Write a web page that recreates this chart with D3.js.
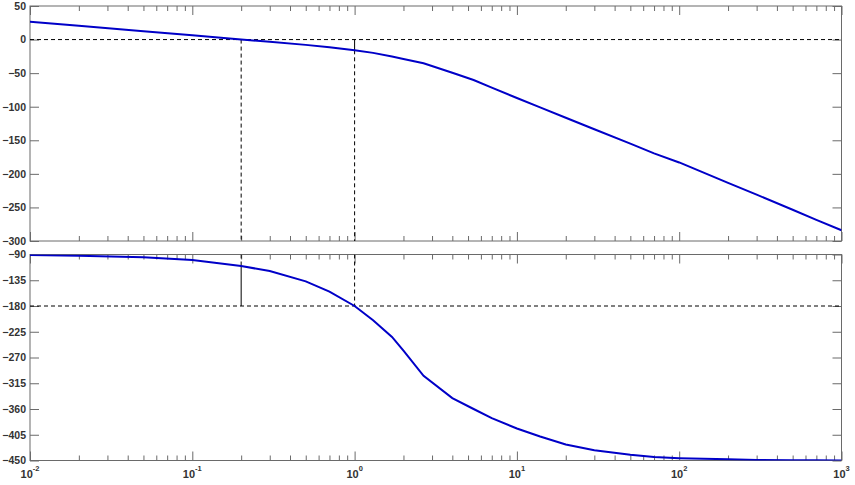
<!DOCTYPE html>
<html>
<head>
<meta charset="utf-8">
<script src="https://cdn.jsdelivr.net/npm/d3@7/dist/d3.min.js"></script>
<style>
  html, body { margin: 0; padding: 0; background: #fff; }
  svg { display: block; }
  .tick text { font-family: "Liberation Sans", Arial, sans-serif; font-size: 10.5px; font-weight: bold; fill: #333; }
</style>
</head>
<body>
<svg id="chart" width="855" height="485"></svg>
<script>
// ---- data ----
const freqs    = [0.01, 0.02, 0.05, 0.1, 0.2, 0.3, 0.5, 0.7, 1, 1.3, 1.7, 2.0, 2.66, 4, 5.41, 7, 10, 13.9, 20, 30, 50, 70, 100, 200, 300, 500, 700, 1000];
const magDb    = [26.5, 20.5, 12.5, 6.4, 0.0, -3.2, -7.9, -11.4, -16.0, -19.8, -25.3, -29.0, -35.4, -49.5, -60.2, -71.5, -87.0, -101.0, -116.5, -133.5, -155.0, -169.5, -183.0, -213.5, -231.0, -253.5, -268.5, -284.0];
const phaseDeg = [-91, -92, -94.7, -99.5, -110, -119, -137, -155, -180, -205, -234, -258, -302, -341, -360, -376, -394, -408, -422, -432, -440, -444, -446, -448, -449, -449.5, -449.7, -449.8];

const magTicks   = [50, 0, -50, -100, -150, -200, -250, -300];
const phaseTicks = [-90, -135, -180, -225, -270, -315, -360, -405, -450];
const decadeExps = [-2, -1, 0, 1, 2, 3];

// margins (from the picture)
const wGainCross  = 0.2;   // 0 dB crossover
const wPhaseCross = 1;     // -180 deg crossover
const magAtWpc    = -16;   // gain at phase crossover
const phaseAtWgc  = -110;  // phase at gain crossover

// ---- layout ----
const svg = d3.select("#chart");
const left = 30, right = 841.5;
const magTop = 6, magBot = 241;
const phTop = 254.5, phBot = 460.5;

const x = d3.scaleLog().domain([0.01, 1000]).range([left, right]);
const yMag = d3.scaleLinear().domain([-300, 50]).range([magBot, magTop]);
const yPh = d3.scaleLinear().domain([-450, -90]).range([phBot, phTop]);

const axisColor = "#6a6a6a";
const curveColor = "#0000c8";

const allTicks = x.ticks();
const majorTicks = decadeExps.map(e => Math.pow(10, e));
const minorTicks = allTicks.filter(t => !majorTicks.some(m => Math.abs(m - t) / m < 1e-6));

function panel(y, yTicks, top, bot, id) {
  const g = svg.append("g");
  svg.append("clipPath").attr("id", id).append("rect")
    .attr("x", left).attr("y", top).attr("width", right - left).attr("height", bot - top);

  const ax = g.append("g").attr("transform", `translate(${left},0)`)
    .call(d3.axisLeft(y).tickValues(yTicks).tickSize(-9).tickSizeOuter(0).tickPadding(4).tickFormat(d3.format("d")));
  ax.select(".domain").remove();
  ax.selectAll(".tick line").attr("stroke", axisColor);
  const axr = g.append("g").attr("transform", `translate(${right},0)`)
    .call(d3.axisRight(y).tickValues(yTicks).tickSize(-9).tickSizeOuter(0).tickFormat(""));
  axr.select(".domain").remove();
  axr.selectAll(".tick line").attr("stroke", axisColor);

  [[bot, 1], [top, -1]].forEach(([yy, dir]) => {
    const mk = (vals, len) => {
      const a = dir === 1
        ? d3.axisBottom(x).tickValues(vals).tickSize(-len).tickSizeOuter(0).tickFormat("")
        : d3.axisTop(x).tickValues(vals).tickSize(-len).tickSizeOuter(0).tickFormat("");
      const s = g.append("g").attr("transform", `translate(0,${yy})`).call(a);
      s.select(".domain").remove();
      s.selectAll(".tick line").attr("stroke", axisColor);
    };
    mk(majorTicks, 9);
    mk(minorTicks, 5);
  });

  g.append("rect").attr("x", left).attr("y", top).attr("width", right - left).attr("height", bot - top)
    .attr("fill", "none").attr("stroke", axisColor).attr("stroke-width", 1);
  return g;
}

const gMag = panel(yMag, magTicks, magTop, magBot, "clipMag");
const gPh = panel(yPh, phaseTicks, phTop, phBot, "clipPh");

// x tick labels (10^n)
const lab = svg.append("g");
decadeExps.forEach(e => {
  const t = lab.append("text")
    .attr("x", x(Math.pow(10, e)))
    .attr("y", 478)
    .attr("text-anchor", "middle")
    .attr("font-family", "Liberation Sans, Arial, sans-serif")
    .attr("font-weight", "bold")
    .attr("font-size", 11)
    .attr("fill", "#333");
  t.append("tspan").text("10");
  t.append("tspan").attr("dy", -7).attr("font-size", 7.5).text(String(e));
});

const dash = "4,3";

// ---- magnitude panel ----
const lm = gMag.append("g").attr("clip-path", "url(#clipMag)");
lm.append("line").attr("x1", x(0.01)).attr("x2", x(1000)).attr("y1", yMag(0)).attr("y2", yMag(0))
  .attr("stroke", "#000").attr("stroke-dasharray", dash);
lm.append("line").attr("x1", x(wGainCross)).attr("x2", x(wGainCross)).attr("y1", yMag(0)).attr("y2", yMag(-300))
  .attr("stroke", "#000").attr("stroke-dasharray", dash);
lm.append("line").attr("x1", x(wPhaseCross)).attr("x2", x(wPhaseCross)).attr("y1", yMag(magAtWpc)).attr("y2", yMag(-300))
  .attr("stroke", "#000").attr("stroke-dasharray", dash);
lm.append("line").attr("x1", x(wPhaseCross)).attr("x2", x(wPhaseCross)).attr("y1", yMag(0)).attr("y2", yMag(magAtWpc))
  .attr("stroke", "#000");
lm.append("path").datum(freqs.map((f, i) => [f, magDb[i]]))
  .attr("d", d3.line().x(d => x(d[0])).y(d => yMag(d[1])))
  .attr("fill", "none").attr("stroke", curveColor).attr("stroke-width", 2);

// ---- phase panel ----
const lp = gPh.append("g").attr("clip-path", "url(#clipPh)");
lp.append("line").attr("x1", x(0.01)).attr("x2", x(1000)).attr("y1", yPh(-180)).attr("y2", yPh(-180))
  .attr("stroke", "#000").attr("stroke-dasharray", dash);
lp.append("line").attr("x1", x(wGainCross)).attr("x2", x(wGainCross)).attr("y1", yPh(-90)).attr("y2", yPh(phaseAtWgc))
  .attr("stroke", "#000").attr("stroke-dasharray", dash);
lp.append("line").attr("x1", x(wGainCross)).attr("x2", x(wGainCross)).attr("y1", yPh(phaseAtWgc)).attr("y2", yPh(-180))
  .attr("stroke", "#000");
lp.append("line").attr("x1", x(wPhaseCross)).attr("x2", x(wPhaseCross)).attr("y1", yPh(-90)).attr("y2", yPh(-180))
  .attr("stroke", "#000").attr("stroke-dasharray", dash);
lp.append("path").datum(freqs.map((f, i) => [f, phaseDeg[i]]))
  .attr("d", d3.line().x(d => x(d[0])).y(d => yPh(d[1])))
  .attr("fill", "none").attr("stroke", curveColor).attr("stroke-width", 2);
</script>
</body>
</html>
